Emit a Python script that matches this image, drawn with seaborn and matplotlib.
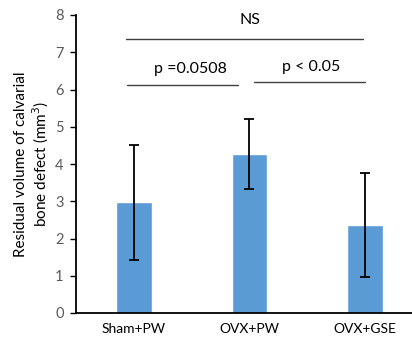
import matplotlib
matplotlib.use("Agg")
import matplotlib.pyplot as plt
import seaborn as sns
import pandas as pd
import numpy as np

categories = ["Sham+PW", "OVX+PW", "OVX+GSE"]
means = [2.97, 4.27, 2.37]
errors = [1.54, 0.95, 1.40]
y_ticks = [0, 1, 2, 3, 4, 5, 6, 7, 8]

# significance annotations: (x_start, x_end, y_line, label, y_text)
sig_labels = ["NS", "p =0.0508", "p < 0.05"]
sig_x0 = [-0.07, -0.06, 1.04]
sig_x1 = [1.98, 0.90, 2.00]
sig_y = [7.36, 6.12, 6.19]
sig_text_x = [1.0, 0.49, 1.53]
sig_text_y = [7.87, 6.55, 6.61]

sns.set_theme(style="white")
plt.rcParams['font.family'] = ['Lato', 'DejaVu Sans']

fig = plt.figure(figsize=(4.12, 3.37), dpi=100)
ax = fig.add_axes([76/412, 24/337, 347/412, 298/337])

df = pd.DataFrame({"group": categories, "value": means})
sns.barplot(data=df, x="group", y="value", color="#5B9BD5", saturation=1,
            width=0.31, ax=ax, errorbar=None)
ax.errorbar(np.arange(len(categories)), means, yerr=errors, fmt="none",
            ecolor="black", elinewidth=1.3, capsize=3.5, capthick=1.3)

for x0, x1, y, lab, tx, ty in zip(sig_x0, sig_x1, sig_y, sig_labels, sig_text_x, sig_text_y):
    ax.plot([x0, x1], [y, y], color="#404040", lw=1.0, clip_on=False)
    ax.text(tx, ty, lab, ha="center", va="center", fontsize=11.5, color="black")

ax.set_xlim(-0.5, 2.5)
ax.set_ylim(0, 8)
ax.set_yticks(y_ticks)
ax.set_yticklabels([str(t) for t in y_ticks], fontsize=10.5, color="#595959")
ax.tick_params(axis="y", direction="out", length=4, width=1, color="black", left=True, pad=5)
ax.tick_params(axis="x", length=0, labelsize=10, pad=7)
for lbl in ax.get_xticklabels():
    lbl.set_color("black")
ax.set_xlabel("")
ax.set_ylabel("Residual volume of calvarial\nbone defect (mm$^3$)", fontsize=11, color="black", labelpad=3,
              linespacing=1.15)
for s in ["top", "right"]:
    ax.spines[s].set_visible(False)
for s in ["left", "bottom"]:
    ax.spines[s].set_color("black")
    ax.spines[s].set_linewidth(1.3)

fig.savefig("out.png", dpi=100)
